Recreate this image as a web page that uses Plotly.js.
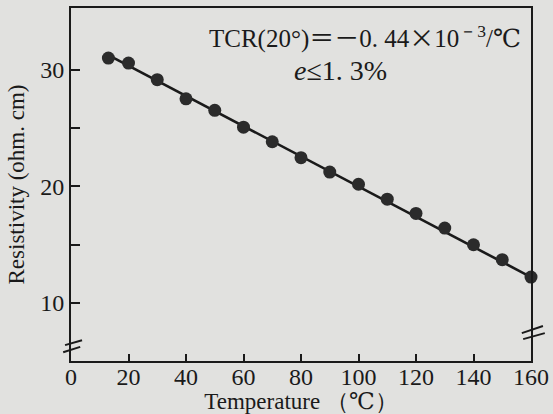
<!DOCTYPE html>
<html>
<head>
<meta charset="utf-8">
<script src="https://cdn.plot.ly/plotly-3.0.1.min.js"></script>
<style>
  html, body { margin: 0; padding: 0; background: #e1e1df; }
  #chart { width: 553px; height: 414px; }
</style>
</head>
<body>
<div id="chart"></div>
<script>
// Measured data (temperature in °C, resistivity)
var temperatures = [13, 20, 30, 40, 50, 60, 70, 80, 90, 100, 110, 120, 130, 140, 150, 160];
var resistivity = [31.0, 30.57, 29.15, 27.5, 26.52, 25.07, 23.82, 22.45, 21.22, 20.17, 18.89, 17.67, 16.41, 14.98, 13.70, 12.2];

// Fitted straight line (end points)
var fitTemperatures = [13, 160];
var fitResistivity = [31.25, 12.2];

// Axis ticks
var xTickVals = [0, 20, 40, 60, 80, 100, 120, 140, 160];
var yTickVals = [10, 20, 30];
var yMinorTickVals = [15, 25];

var ink = '#1a1a1a';
var serif = 'Liberation Serif, DejaVu Serif, serif';
var cjk = 'Noto Sans CJK SC';

var traces = [
  {
    x: fitTemperatures, y: fitResistivity,
    type: 'scatter', mode: 'lines',
    line: { color: ink, width: 2.6 },
    hoverinfo: 'skip', showlegend: false
  },
  {
    x: temperatures, y: resistivity,
    type: 'scatter', mode: 'markers',
    marker: { color: '#2b2b2b', size: 13, line: { width: 0 } },
    showlegend: false, cliponaxis: false
  }
];

function brk(x0, y0, x1, y1) {
  return { type: 'line', xref: 'paper', yref: 'paper', x0: x0, y0: y0, x1: x1, y1: y1,
           line: { color: ink, width: 2 } };
}

var layout = {
  width: 553, height: 414,
  margin: { l: 71, r: 22, t: 8, b: 53 },
  paper_bgcolor: '#e1e1df',
  plot_bgcolor: '#e1e1df',
  font: { family: serif, color: ink },
  showlegend: false,
  xaxis: {
    range: [0, 160],
    tickvals: xTickVals,
    ticks: 'inside', ticklen: 7, tickwidth: 2, tickcolor: ink,
    ticklabelstandoff: -7,
    showline: true, linecolor: ink, linewidth: 2, mirror: true,
    showgrid: false, zeroline: false,
    tickfont: { family: serif, size: 24, color: ink },
    title: { text: 'Temperature （℃）', font: { family: serif, size: 23, color: ink }, standoff: 2 }
  },
  yaxis: {
    range: [5, 35.3],
    tickvals: yTickVals,
    minor: { tickvals: yMinorTickVals, ticks: 'inside', ticklen: 9, tickwidth: 2, tickcolor: ink, showgrid: false },
    ticks: 'inside', ticklen: 9, tickwidth: 2, tickcolor: ink,
    showline: true, linecolor: ink, linewidth: 2, mirror: true,
    showgrid: false, zeroline: false,
    tickfont: { family: serif, size: 24, color: ink },
    title: { text: 'Resistivity (ohm. cm)', font: { family: serif, size: 23, color: ink }, standoff: 9 }
  },
  annotations: [
    {
      xref: 'paper', yref: 'paper', x: 0.983, y: 0.921, xanchor: 'right', yanchor: 'middle',
      text: 'TCR(20°)<span style="font-family:' + cjk + '">＝－</span>0. 44<span style="font-family:' + cjk + '">×</span>10<sup>－3</sup>/℃',
      showarrow: false, font: { family: serif, size: 25, color: ink }
    },
    {
      xref: 'paper', yref: 'paper', x: 0.585, y: 0.822, xanchor: 'center', yanchor: 'middle',
      text: '<i>e</i>≤1. 3%',
      showarrow: false, font: { family: serif, size: 28, color: ink }
    }
  ],
  shapes: [
    brk(-0.013, 0.045, 0.024, 0.059),
    brk(-0.017, 0.025, 0.020, 0.040),
    brk(0.980, 0.079, 1.026, 0.099),
    brk(0.983, 0.062, 1.030, 0.079)
  ]
};

Plotly.newPlot('chart', traces, layout, { displayModeBar: false, staticPlot: true });
</script>
</body>
</html>
